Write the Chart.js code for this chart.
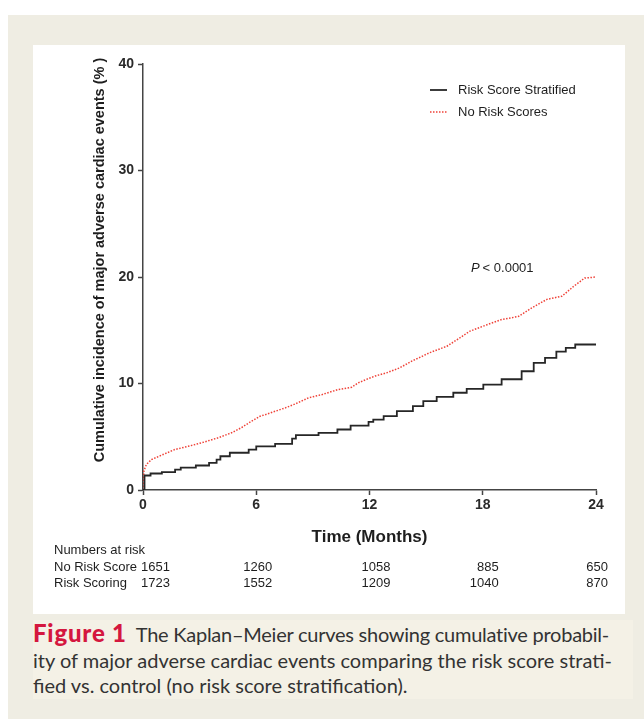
<!DOCTYPE html>
<html>
<head>
<meta charset="utf-8">
<script src="https://cdn.jsdelivr.net/npm/chart.js@4/dist/chart.umd.min.js"></script>
<style>
  body { margin: 0; background: #fff; width: 644px; height: 719px; overflow: hidden; }
  #frame { position: absolute; left: 8px; top: 15px; width: 636px; height: 704px; background: #efede3; }
  #panel { position: absolute; left: 33px; top: 45px; width: 592px; height: 569px; background: #fff; }
  #caption { position: absolute; left: 33px; top: 620px; width: 600px; font-family: Lato, "Open Sans", sans-serif;
             font-size: 20px; line-height: 25.5px; color: #333; background: #f4f1e6; white-space: nowrap; }
  #caption b { color: #d4173f; font-weight: 900; font-size: 24px; margin-right: 9px; letter-spacing: 0.8px; }
  #caption .l1 { letter-spacing: -0.25px; }
</style>
</head>
<body>
<div id="frame"></div>
<div id="panel"><canvas id="km" width="592" height="569"></canvas></div>
<div id="caption">
  <div><b>Figure 1</b><span class="l1">The Kaplan–Meier curves showing cumulative probabil-</span></div>
  <div>ity of major adverse cardiac events comparing the risk score strati-</div>
  <div>fied vs. control (no risk score stratification).</div>
</div>
<script>
// Risk Score Stratified (black)
const blackMonths = [0,0.08,0.4,1.0,1.7,2.0,2.8,3.5,3.9,4.1,4.6,5.6,6.0,7.0,7.9,8.1,9.3,10.3,11.0,11.95,12.2,12.75,13.45,14.3,14.85,15.56,16.44,17.15,18.03,19.0,20.06,20.7,21.3,21.9,22.4,22.9,24];
const blackValues = [0,1.36,1.55,1.67,1.92,2.1,2.3,2.55,2.86,3.17,3.5,3.8,4.1,4.33,4.83,5.15,5.37,5.68,6.05,6.4,6.6,6.93,7.4,7.87,8.34,8.75,9.13,9.5,9.9,10.4,11.15,11.94,12.4,13.0,13.35,13.66,13.7];

// No Risk Scores (red dotted)
const redMonths = [0,0.05,0.18,0.45,1.06,1.68,2.39,3.1,3.98,4.69,5.2,5.75,6.2,6.5,7.55,8.08,8.77,9.5,10.35,11.06,11.4,11.95,12.3,12.9,13.6,14.24,15.2,16.1,16.8,17.3,18.2,19.0,19.9,20.6,21.4,22.2,22.8,23.4,24];
const redValues = [0,1.8,2.4,2.86,3.33,3.8,4.1,4.43,4.9,5.37,5.84,6.46,6.93,7.09,7.72,8.09,8.66,8.97,9.44,9.65,10.06,10.47,10.7,11.0,11.47,12.1,12.9,13.5,14.3,14.9,15.5,16.0,16.3,17.1,17.9,18.2,19.1,19.9,20.0];

// numbers at risk
const riskTimes = [0, 6, 12, 18, 24];
const noRiskCounts = [1651, 1260, 1058, 885, 650];
const riskCounts = [1723, 1552, 1209, 1040, 870];
const rowLabels = ["No Risk Score", "Risk Scoring"];
const colShift = [27, 16, 21, 16, 12]; // right edge of each count column, px right of its tick

const toPoints = (xs, ys) => xs.map((x, i) => ({ x: x, y: ys[i] }));
const FONT = "'Liberation Sans', Arial, sans-serif";

const extras = {
  id: "extras",
  afterDraw(chart) {
    const ctx = chart.ctx;
    const xs = chart.scales.x;
    const area = chart.chartArea;
    ctx.save();
    ctx.fillStyle = "#1e1e1e";
    ctx.textBaseline = "middle";

    // y title
    ctx.save();
    ctx.translate(67, 215);
    ctx.rotate(-Math.PI / 2);
    ctx.textAlign = "center";
    ctx.font = "bold 14.5px " + FONT;
    ctx.fillText("Cumulative incidence of major adverse cardiac events (% )", 0, 0);
    ctx.restore();

    // x title
    ctx.textAlign = "center";
    ctx.font = "bold 17px " + FONT;
    ctx.fillText("Time (Months)", (area.left + area.right) / 2, 492);

    // legend
    chart.data.datasets.forEach((d, i) => {
      const y = 45 + i * 22;
      ctx.beginPath();
      ctx.strokeStyle = d.borderColor;
      ctx.lineWidth = d.borderWidth;
      ctx.setLineDash(d.borderDash || []);
      ctx.moveTo(397, y);
      ctx.lineTo(414, y);
      ctx.stroke();
      ctx.setLineDash([]);
      ctx.textAlign = "left";
      ctx.font = "13px " + FONT;
      ctx.fillText(d.label, 425, y);
    });

    // p value
    ctx.textAlign = "left";
    ctx.font = "italic 13px " + FONT;
    ctx.fillText("P", 438, 223);
    ctx.font = "13px " + FONT;
    ctx.fillText(" < 0.0001", 446, 223);

    // numbers at risk table
    ctx.font = "13px " + FONT;
    ctx.fillText("Numbers at risk", 21, 505);
    ctx.fillText(rowLabels[0], 21, 522);
    ctx.fillText(rowLabels[1], 21, 538);
    ctx.textAlign = "right";
    riskTimes.forEach((t, i) => {
      const xr = xs.getPixelForValue(t) + colShift[i];
      ctx.fillText(String(noRiskCounts[i]), xr, 522);
      ctx.fillText(String(riskCounts[i]), xr, 538);
    });
    ctx.restore();
  }
};

const tickFont = { family: FONT, size: 14, weight: "bold" };

new Chart(document.getElementById("km"), {
  type: "line",
  data: {
    datasets: [
      {
        label: "Risk Score Stratified",
        data: toPoints(blackMonths, blackValues),
        borderColor: "#262626",
        borderWidth: 1.8,
        stepped: true,
        pointRadius: 0,
      },
      {
        label: "No Risk Scores",
        data: toPoints(redMonths, redValues),
        borderColor: "#ef4238",
        borderWidth: 1.5,
        borderDash: [1.5, 1.5],
        pointRadius: 0,
      },
    ],
  },
  options: {
    responsive: false,
    animation: false,
    layout: { padding: { left: 0, right: 29, top: 19, bottom: 0 } },
    plugins: { legend: { display: false }, tooltip: { enabled: false } },
    scales: {
      x: {
        type: "linear",
        min: 0,
        max: 24,
        ticks: { stepSize: 6, color: "#2a2a2a", padding: 2, font: tickFont },
        grid: { drawOnChartArea: false, tickLength: 5, color: "#444", tickWidth: 1.5 },
        border: { color: "#444", width: 1.5 },
        afterFit: (s) => { s.height = 124; },
      },
      y: {
        min: 0,
        max: 40,
        ticks: { stepSize: 10, color: "#2a2a2a", padding: 4, font: tickFont },
        grid: { drawOnChartArea: false, tickLength: 5, color: "#444", tickWidth: 1.5 },
        border: { color: "#444", width: 1.5 },
        afterFit: (s) => { s.width = 110; },
      },
    },
  },
  plugins: [extras],
});
</script>
</body>
</html>
